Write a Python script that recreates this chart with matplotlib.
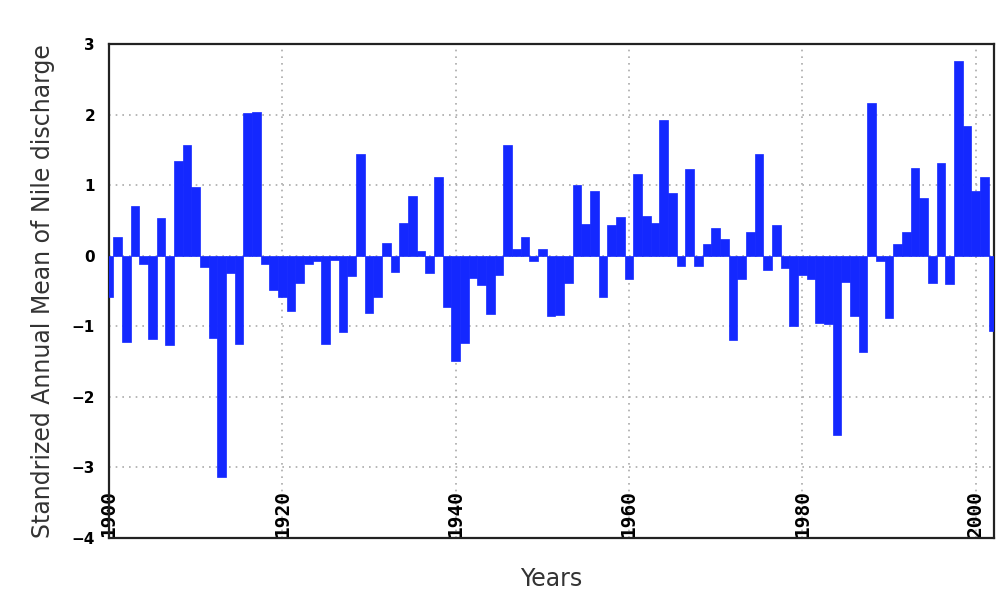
import numpy as np
import matplotlib.pyplot as plt

# Standardized annual mean of Nile discharge, 1900-2002
years = np.arange(1900, 2003)
values = [
    -0.59, 0.27, -1.22, 0.71, -0.12, -1.18, 0.53, -1.27, 1.34, 1.57,   # 1900s
    0.97, -0.16, -1.17, -3.14, -0.24, -1.25, 2.02, 2.04, -0.12, -0.48,  # 1910s
    -0.59, -0.79, -0.38, -0.12, -0.08, -1.25, -0.06, -1.08, -0.29, 1.44,  # 1920s
    -0.81, -0.58, 0.18, -0.23, 0.47, 0.84, 0.06, -0.25, 1.12, -0.72,   # 1930s
    -1.49, -1.23, -0.32, -0.42, -0.83, -0.27, 1.57, 0.10, 0.27, -0.07,  # 1940s
    0.10, -0.86, -0.84, -0.38, 1.00, 0.45, 0.92, -0.58, 0.44, 0.55,     # 1950s
    -0.33, 1.16, 0.56, 0.47, 1.92, 0.89, -0.14, 1.23, -0.14, 0.17,      # 1960s
    0.39, 0.23, -1.20, -0.33, 0.34, 1.44, -0.20, 0.44, -0.18, -1.00,    # 1970s
    -0.28, -0.33, -0.95, -0.97, -2.54, -0.37, -0.85, -1.36, 2.17, -0.07,  # 1980s
    -0.88, 0.17, 0.34, 1.24, 0.82, -0.38, 1.32, -0.40, 2.76, 1.84,      # 1990s
    0.92, 1.12, -1.06,                                                  # 2000s
]
xticks = [1900, 1920, 1940, 1960, 1980, 2000]
yticks = [-4, -3, -2, -1, 0, 1, 2, 3]

fig = plt.figure(figsize=(10.06, 5.93), dpi=100)
ax = fig.add_axes([0.1083, 0.0927, 0.8797, 0.8331])

ax.bar(years, values, width=1.0, color='#1428ff', edgecolor='#1428ff', linewidth=0.5, zorder=3)

ax.set_xlim(1900, 2002.1)
ax.set_ylim(-4, 3)
ax.set_xticks(xticks)
ax.set_yticks(yticks)
ax.grid(True, linestyle=(0, (1, 3)), color='#aaaaaa', linewidth=1.2, zorder=0)

for s in ax.spines.values():
    s.set_linewidth(1.6)
    s.set_color('#222222')

ax.tick_params(axis='both', length=0)
ax.tick_params(axis='y', pad=10)
ax.tick_params(axis='x', pad=-1)
for lbl in ax.get_yticklabels():
    lbl.set_fontweight('bold')
    lbl.set_fontsize(11)
for lbl in ax.get_xticklabels():
    lbl.set_rotation(90)
    lbl.set_va('bottom')
    lbl.set_fontfamily('DejaVu Sans Mono')
    lbl.set_fontweight('bold')
    lbl.set_fontsize(14)

ax.set_ylabel('Standrized Annual Mean of Nile discharge', fontsize=17, color='#333333', labelpad=12)
ax.set_xlabel('Years', fontsize=17, color='#333333', labelpad=21)

fig.savefig('out.png', dpi=100)
